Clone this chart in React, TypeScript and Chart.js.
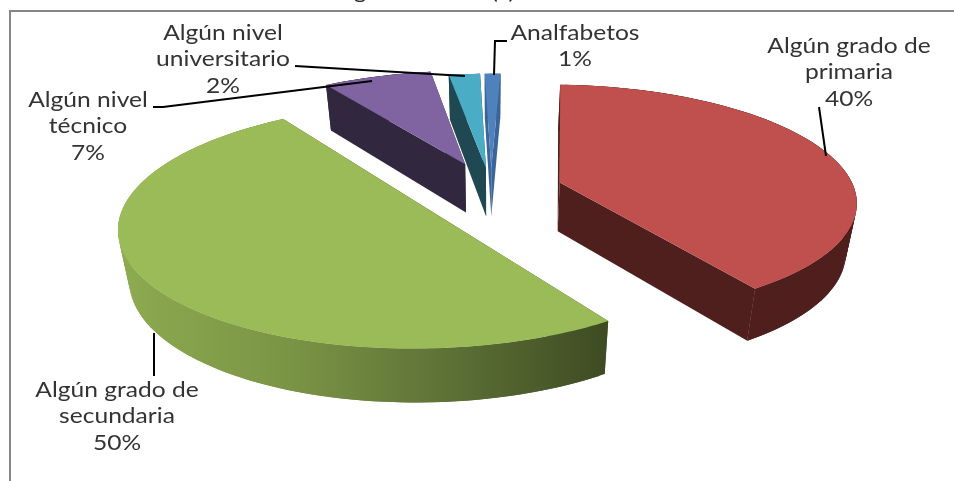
import React, { useEffect, useRef } from "react";
import { Chart, registerables } from "chart.js";

Chart.register(...registerables);

const categories = ["Analfabetos", "Algún grado de primaria", "Algún grado de secundaria", "Algún nivel técnico", "Algún nivel universitario"];
const percentages = [1, 40, 50, 7, 2];
const explode = [42, 52, 56, 53, 42];
const topColors = ["#4f81bd", "#c0504d", "#9bbb59", "#8064a2", "#4bacc6"];
const wallColors = ["#3b6499", "#4f1f1e", "#5d7335", "#31273f", "#1f4853"];
const paintOrder = [0, 4, 3, 1, 2];
const titleText = "Gráfico 1. Nivel de instrucción según estudios (a)";

const FONT = '21px "Lato"';
const H_SCALE = 1.17;
const TEXT = "#333333";
const view = { cx: 491, cy: 190, rx: 295, ry: 114.5, p: 0.15, depth: 49, shrink: 0.97 };
const ROTATION_DEG = -1.5;

const labelBlocks = [
  { x: 575, ys: [40, 66], lines: ["Analfabetos", "1%"] },
  { x: 849, ys: [53, 79, 106], lines: ["Algún grado de", "primaria", "40%"] },
  { x: 117, ys: [397, 423, 450], lines: ["Algún grado de", "secundaria", "50%"] },
  { x: 88, ys: [107, 133, 160], lines: ["Algún nivel", "técnico", "7%"] },
  { x: 223, ys: [40, 66, 93], lines: ["Algún nivel", "universitario", "2%"] },
];
const leaders = [
  [[507, 41], [495, 41], [494, 75]],
  [[819, 107], [826, 156]],
  [[154, 333], [154, 376]],
  [[153, 107], [163, 107], [372, 81]],
  [[295, 66], [465, 76]],
];

function project(X: number, Y: number, low: boolean) {
  const w = 1 / (1 - view.p * Y);
  return {
    x: view.cx + view.rx * X * w * (low ? view.shrink : 1),
    y: view.cy + view.ry * Y * w + (low ? view.depth * Math.sqrt(w) : 0),
  };
}

function poly(ctx: CanvasRenderingContext2D, pts: { x: number; y: number }[], fill: any) {
  ctx.beginPath();
  pts.forEach((p, i) => (i ? ctx.lineTo(p.x, p.y) : ctx.moveTo(p.x, p.y)));
  ctx.closePath();
  ctx.fillStyle = fill;
  ctx.fill();
}

function stretchedText(ctx: CanvasRenderingContext2D, t: string, x: number, y: number) {
  ctx.save();
  ctx.translate(x, y);
  ctx.scale(H_SCALE, 1);
  ctx.fillText(t, 0, 0);
  ctx.restore();
}

const pie3d = {
  id: "pie3d",
  beforeDatasetsDraw(chart: any) {
    const ctx: CanvasRenderingContext2D = chart.ctx;
    const arcs = chart.getDatasetMeta(0).data;
    const greenWall = ctx.createLinearGradient(118, 0, 612, 0);
    greenWall.addColorStop(0, "#8dab50");
    greenWall.addColorStop(0.35, "#7a9445");
    greenWall.addColorStop(0.65, "#5f7337");
    greenWall.addColorStop(1, "#3d4a22");

    paintOrder.forEach((i) => {
      const el = arcs[i];
      const { startAngle, endAngle, outerRadius } = el.getProps(["startAngle", "endAngle", "outerRadius"], true);
      const e = (el.options.offset || 0) / outerRadius;
      const mid = (startAngle + endAngle) / 2;
      const ox = e * Math.cos(mid);
      const oy = e * Math.sin(mid);
      const steps = Math.max(4, Math.ceil((endAngle - startAngle) / 0.02));
      const rim: [number, number][] = [];
      for (let k = 0; k <= steps; k++) {
        const a = startAngle + ((endAngle - startAngle) * k) / steps;
        rim.push([ox + Math.cos(a), oy + Math.sin(a)]);
      }
      const wall = i === 2 ? greenWall : wallColors[i];
      const apexTop = project(ox, oy, false);
      const apexLow = project(ox, oy, true);
      const first = rim[0];
      const last = rim[rim.length - 1];
      const cutWall = i === 2 ? "#3d4a22" : wallColors[i];
      poly(ctx, [apexTop, project(first[0], first[1], false), project(first[0], first[1], true), apexLow], cutWall);
      poly(ctx, [apexTop, project(last[0], last[1], false), project(last[0], last[1], true), apexLow], cutWall);
      for (let k = 0; k < rim.length - 1; k++) {
        const a = rim[k];
        const b = rim[Math.min(k + 2, rim.length - 1)];
        poly(ctx, [project(a[0], a[1], false), project(b[0], b[1], false), project(b[0], b[1], true), project(a[0], a[1], true)], wall);
      }
      poly(ctx, [apexTop, ...rim.map((r) => project(r[0], r[1], false))], topColors[i]);
    });

    // frame
    ctx.strokeStyle = "#868686";
    ctx.lineWidth = 2;
    ctx.beginPath();
    ctx.moveTo(10, 481);
    ctx.lineTo(10, 11);
    ctx.lineTo(954, 11);
    ctx.stroke();

    // title, cut by the top of the picture
    ctx.fillStyle = "#222222";
    ctx.font = '20px "Lato"';
    ctx.textAlign = "left";
    ctx.textBaseline = "alphabetic";
    ctx.save();
    ctx.translate(14, -1);
    ctx.scale(1.18, 1);
    ctx.fillText(titleText, 0, 0);
    ctx.restore();

    // leaders
    ctx.strokeStyle = "#000000";
    ctx.lineWidth = 2;
    leaders.forEach((line) => {
      ctx.beginPath();
      line.forEach((p, k) => (k ? ctx.lineTo(p[0], p[1]) : ctx.moveTo(p[0], p[1])));
      ctx.stroke();
    });

    // labels
    ctx.fillStyle = TEXT;
    ctx.font = FONT;
    ctx.textAlign = "center";
    labelBlocks.forEach((b) => b.lines.forEach((t, k) => stretchedText(ctx, t, b.x, b.ys[k])));
    return false;
  },
};

export default function App() {
  const ref = useRef<HTMLCanvasElement>(null);
  useEffect(() => {
    const chart = new Chart(ref.current!, {
      type: "pie",
      data: {
        labels: categories,
        datasets: [{ data: percentages, backgroundColor: topColors, offset: explode, borderWidth: 0 }],
      },
      options: {
        animation: false,
        responsive: false,
        devicePixelRatio: 1,
        rotation: ROTATION_DEG,
        plugins: { legend: { display: false }, tooltip: { enabled: false }, title: { display: false } },
      },
      plugins: [pie3d],
    } as any);
    return () => chart.destroy();
  }, []);
  return (
    <div style={{ position: "fixed", left: 0, top: 0, width: 954, height: 481, background: "#fff" }}>
      <canvas ref={ref} width={954} height={481} style={{ display: "block" }} />
    </div>
  );
}
